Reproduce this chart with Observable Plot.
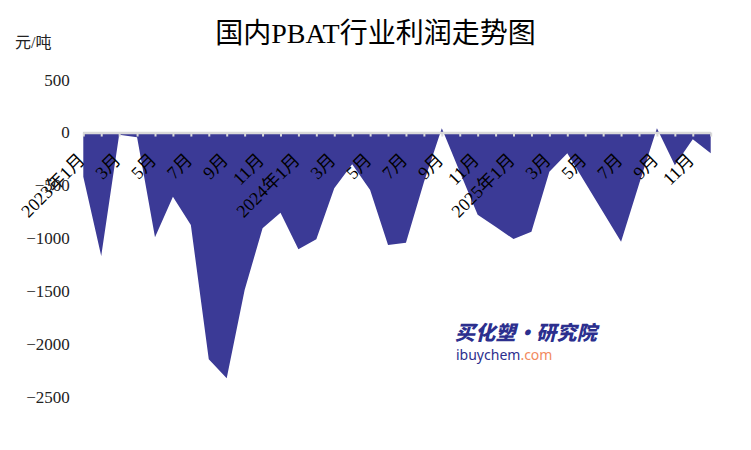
<!DOCTYPE html>
<html>
<head>
<meta charset="utf-8">
<script src="https://cdn.jsdelivr.net/npm/d3@7"></script>
<script src="https://cdn.jsdelivr.net/npm/@observablehq/plot@0.6"></script>
<style>
  html, body { margin: 0; padding: 0; background: #fff; }
  #wrap { position: relative; width: 751px; height: 450px; overflow: hidden; }
  #head { position: relative; height: 60px; }
  #title { position: absolute; left: 0; width: 751px; top: 17px; text-align: center; font-family: "Liberation Serif", "Noto Sans CJK SC", serif; font-size: 28px; color: #000; line-height: 1.2; }
  #unit { position: absolute; left: 15px; top: 33px; font-family: "Liberation Serif", "Noto Sans CJK SC", serif; font-size: 16px; color: #222; line-height: 1.2; }
  #wm1 { position: absolute; left: 455px; top: 322px; font-family: "Noto Sans CJK SC", sans-serif; font-weight: 900; font-style: italic; font-size: 20px; line-height: 20px; color: #2c2f8e; letter-spacing: 0.3px; }
  #wm2 { position: absolute; left: 456px; top: 348px; font-family: "Noto Sans", sans-serif; font-size: 14px; line-height: 14px; color: #2c2f8e; }
  #wm2 span { color: #f28a5e; }
  #chart svg, #chart svg text { font-family: "Liberation Serif", "Noto Sans CJK SC", serif !important; }
</style>
</head>
<body>
<div id="wrap">
  <div id="head">
    <div id="title">国内PBAT行业利润走势图</div>
    <div id="unit">元/吨</div>
  </div>
  <div id="chart"></div>
  <div id="wm1">买化塑·研究院</div>
  <div id="wm2">ibuychem<span>.com</span></div>
</div>
<script>
// Months (2023-01 .. 2025-12)
const months = [
  "2023-01","2023-02","2023-03","2023-04","2023-05","2023-06","2023-07","2023-08","2023-09","2023-10","2023-11","2023-12",
  "2024-01","2024-02","2024-03","2024-04","2024-05","2024-06","2024-07","2024-08","2024-09","2024-10","2024-11","2024-12",
  "2025-01","2025-02","2025-03","2025-04","2025-05","2025-06","2025-07","2025-08","2025-09","2025-10","2025-11","2025-12"
];
// PBAT industry profit, yuan/ton
const profit = [
  -418, -1168, -20, -45, -991, -607, -875, -2146, -2325, -1490, -906, -759,
  -1105, -1010, -528, -300, -544, -1064, -1042, -470, 40, -370, -778, -891,
  -1008, -938, -370, -197, -476, -755, -1033, -490, 40, -310, -64, -197
];
// Category tick labels (every other month)
const labelMonths = [
  "2023-01","2023-03","2023-05","2023-07","2023-09","2023-11",
  "2024-01","2024-03","2024-05","2024-07","2024-09","2024-11",
  "2025-01","2025-03","2025-05","2025-07","2025-09","2025-11"
];
const labelTexts = [
  "2023年1月","3月","5月","7月","9月","11月",
  "2024年1月","3月","5月","7月","9月","11月",
  "2025年1月","3月","5月","7月","9月","11月"
];
const yTickValues = [500, 0, -500, -1000, -1500, -2000, -2500];

const data = months.map((m, i) => ({month: m, value: profit[i]}));
const labels = labelMonths.map((m, i) => ({month: m, text: labelTexts[i]}));

const fill = "#3b3a96";
const axisGrey = "#d9d9d9";

const chart = Plot.plot({
  width: 751,
  height: 390,
  marginLeft: 83.3,
  marginRight: 40.3,
  marginTop: 9.1,
  marginBottom: 21.5,
  style: {fontSize: "15px", background: "transparent", overflow: "visible"},
  x: {type: "point", domain: months, padding: 0, axis: null},
  y: {domain: [-2800, 600], axis: null},
  marks: [
    Plot.areaY(data, {x: "month", y: "value", fill: fill, curve: "linear"}),
    Plot.ruleY([0], {stroke: axisGrey, strokeWidth: 2.5}),
    Plot.ruleX(months, {x: d => d, y1: 0, y2: -38, stroke: axisGrey, strokeWidth: 2}),
    Plot.text(labels, {x: "month", y: 0, text: "text", rotate: -45, textAnchor: "end", dx: -2, dy: 24, fontSize: 18, fill: "#000"}),
    Plot.axisY(yTickValues, {tickSize: 0, tickPadding: 14, fontSize: 17, tickFormat: d => String(d).replace("-", "\u2212"), label: null, fill: "#222"})
  ]
});
document.getElementById("chart").appendChild(chart);
</script>
</body>
</html>
